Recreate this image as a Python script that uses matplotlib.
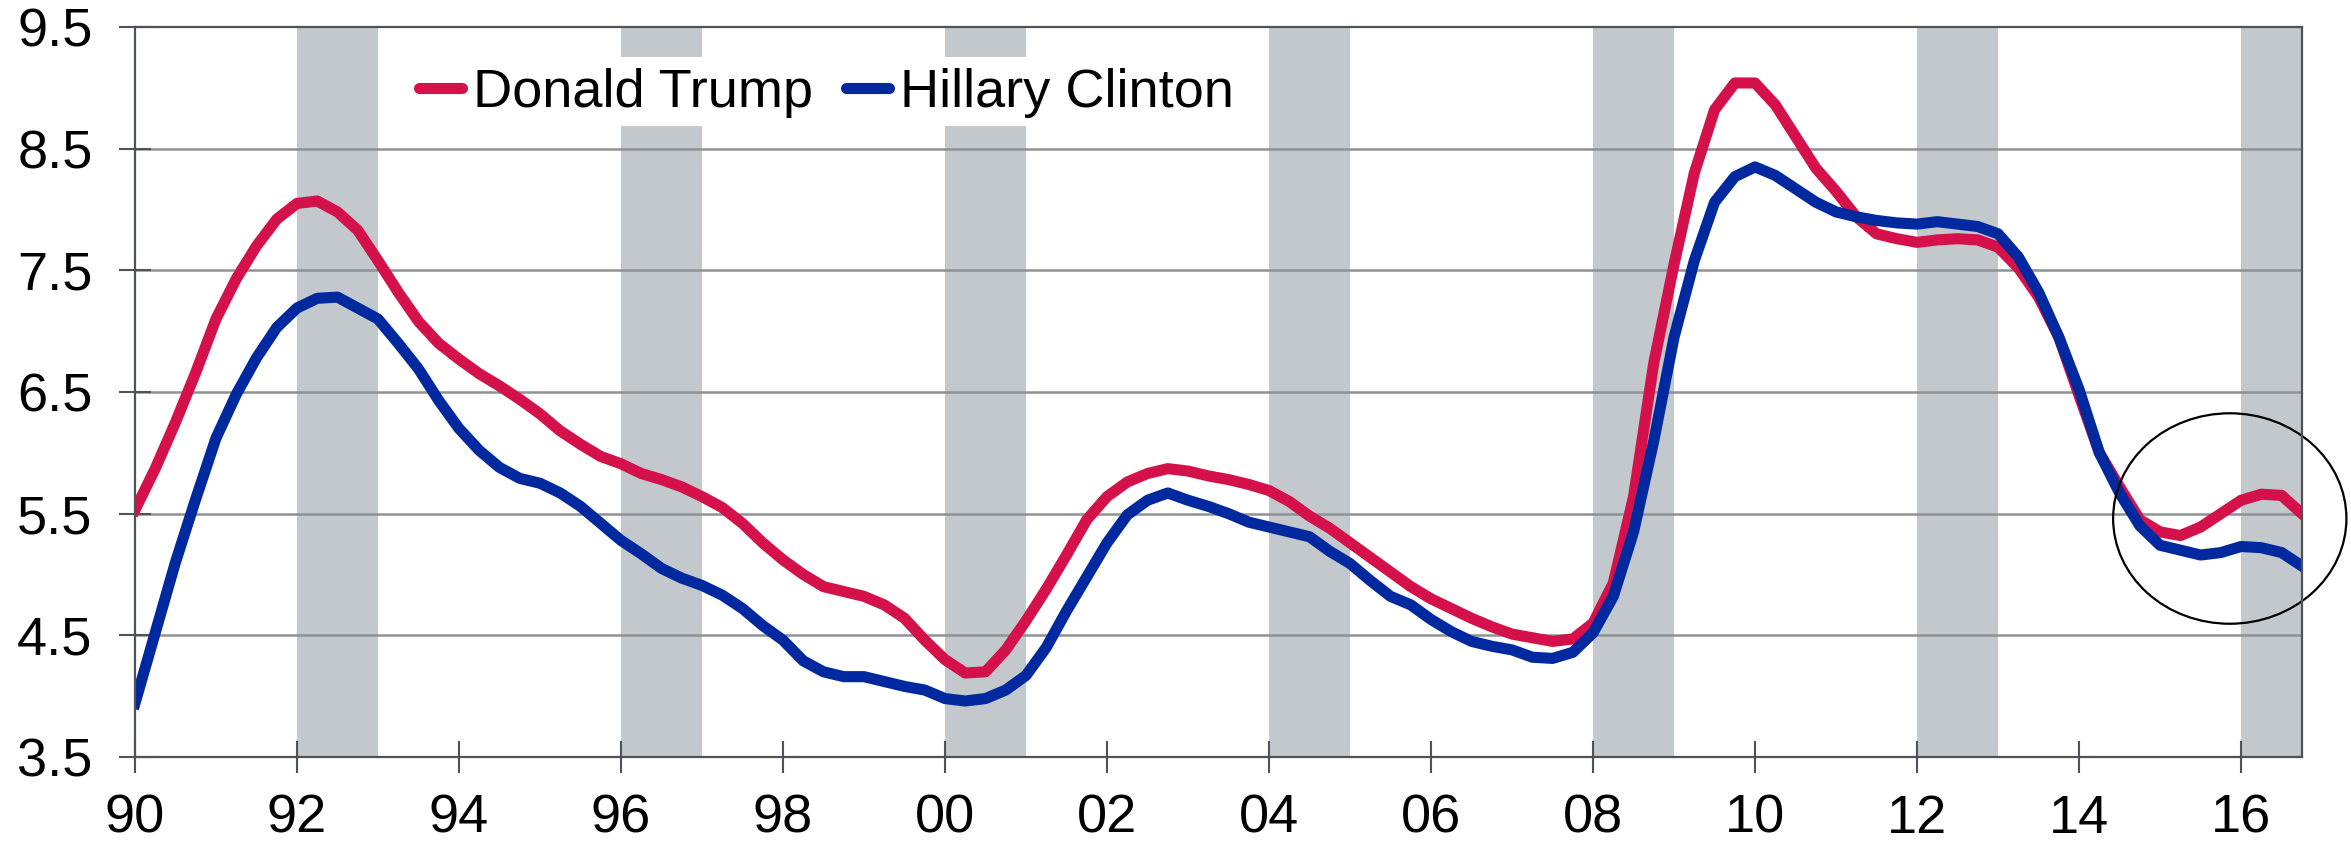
import matplotlib
matplotlib.use("Agg")
import matplotlib.pyplot as plt
from matplotlib.patches import Ellipse, Rectangle
import numpy as np

plt.rcParams['font.family'] = ['Liberation Sans', 'DejaVu Sans']

# quarterly series, 1990Q1 .. 2016Q4
quarters = np.arange(1990, 2017, 0.25)

trump = [
    5.53, 5.87, 6.25, 6.66,
    7.10, 7.43, 7.70, 7.92,
    8.05, 8.07, 7.98, 7.83,
    7.58, 7.32, 7.08, 6.90,
    6.77, 6.65, 6.55, 6.44,
    6.32, 6.18, 6.07, 5.97,
    5.91, 5.83, 5.78, 5.72,
    5.64, 5.55, 5.42, 5.26,
    5.12, 5.00, 4.90, 4.86,
    4.82, 4.75, 4.64, 4.46,
    4.30, 4.19, 4.20, 4.38,
    4.62, 4.88, 5.16, 5.45,
    5.64, 5.76, 5.83, 5.87,
    5.85, 5.81, 5.78, 5.74,
    5.69, 5.60, 5.48, 5.38,
    5.26, 5.14, 5.02, 4.90,
    4.80, 4.72, 4.64, 4.57,
    4.51, 4.48, 4.45, 4.47,
    4.60, 4.93, 5.64, 6.74,
    7.55, 8.30, 8.82, 9.04,
    9.04, 8.86, 8.60, 8.34,
    8.15, 7.94, 7.80, 7.76,
    7.73, 7.75, 7.76, 7.75,
    7.69, 7.52, 7.28, 6.95,
    6.47, 6.00, 5.72, 5.45,
    5.35, 5.32, 5.39, 5.50,
    5.61, 5.66, 5.65, 5.50,
]

clinton = [
    3.94, 4.52, 5.10, 5.62,
    6.12, 6.48, 6.78, 7.03,
    7.19, 7.27, 7.28, 7.19,
    7.10, 6.90, 6.69, 6.43,
    6.20, 6.02, 5.88, 5.79,
    5.75, 5.67, 5.56, 5.42,
    5.28, 5.17, 5.05, 4.97,
    4.91, 4.83, 4.72, 4.58,
    4.46, 4.29, 4.20, 4.16,
    4.16, 4.12, 4.08, 4.05,
    3.98, 3.96, 3.98, 4.05,
    4.17, 4.40, 4.70, 4.98,
    5.26, 5.49, 5.61, 5.67,
    5.61, 5.56, 5.50, 5.43,
    5.39, 5.35, 5.31, 5.19,
    5.09, 4.95, 4.82, 4.75,
    4.63, 4.53, 4.45, 4.41,
    4.38, 4.32, 4.31, 4.36,
    4.52, 4.82, 5.35, 6.10,
    6.95, 7.58, 8.06, 8.27,
    8.35, 8.28, 8.17, 8.06,
    7.98, 7.94, 7.91, 7.89,
    7.88, 7.90, 7.88, 7.86,
    7.80, 7.61, 7.32, 6.95,
    6.52, 6.00, 5.67, 5.40,
    5.24, 5.20, 5.16, 5.18,
    5.23, 5.22, 5.18, 5.07,
]

election_years = [1992, 1996, 2000, 2004, 2008, 2012, 2016]
xtick_years = list(range(1990, 2017, 2))
xtick_labels = ["%02d" % (y % 100) for y in xtick_years]
ytick_vals = [3.5, 4.5, 5.5, 6.5, 7.5, 8.5, 9.5]

red = "#D4114A"
blue = "#0029A0"
band = "#C3C8CC"
dark = "#4F5358"
fsize = 39

fig = plt.figure(figsize=(23.51, 8.47), dpi=100)
ax = fig.add_axes([0.0574, 0.1063, 0.9217, 0.8618])

for y in election_years:
    ax.axvspan(y, y + 1, color=band, lw=0, zorder=0)

for v in ytick_vals[1:-1]:
    ax.axhline(v, color="#8E9294", lw=1.8, zorder=1)

# white legend box (covers the bands behind the legend)
ax.add_patch(Rectangle((1993.0, 8.69), 8.05, 0.56, facecolor="white",
                       edgecolor="none", zorder=2))

ax.plot(quarters, trump, color=red, lw=8, label="Donald Trump", zorder=4)
ax.plot(quarters, clinton, color=blue, lw=8, label="Hillary Clinton", zorder=5)

ax.add_patch(Ellipse((2015.86, 5.46), 2.88, 1.73, fill=False, edgecolor="black",
                     lw=1.6, zorder=6, clip_on=False))

ax.set_xlim(1990, 2016.75)
ax.set_ylim(3.5, 9.5)
ax.set_xticks(xtick_years)
ax.set_xticklabels(xtick_labels)
ax.set_yticks(ytick_vals)
ax.set_yticklabels(["%.1f" % v for v in ytick_vals])

ax.tick_params(axis="both", direction="inout", length=23, width=1.5,
               color=dark, labelsize=fsize, labelcolor="black")
ax.tick_params(axis="x", pad=15)
ax.tick_params(axis="y", pad=19)

for s in ax.spines.values():
    s.set_color(dark)
    s.set_linewidth(1.6)
    s.set_zorder(7)

leg = ax.legend(loc="center left", bbox_to_anchor=((419 - 135) / 2167, 1 - (93 - 27) / 730),
                ncol=2, frameon=False, fontsize=fsize, borderaxespad=0, borderpad=0,
                handlelength=0.8, handletextpad=0.2, columnspacing=0.6)
for h in leg.legend_handles:
    h.set_solid_capstyle("round")
leg.set_zorder(8)

fig.savefig("out.png", dpi=100)
